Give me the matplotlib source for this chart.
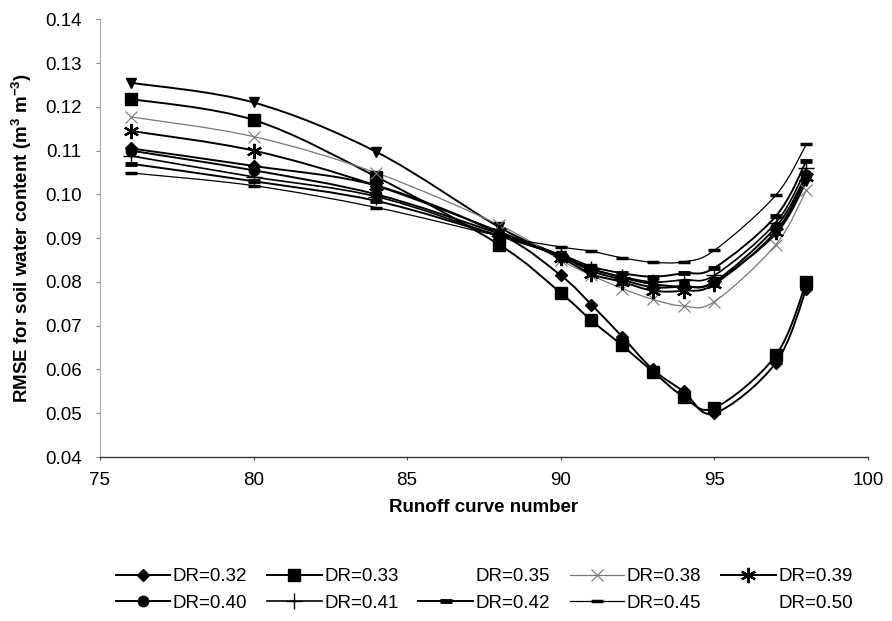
import matplotlib
matplotlib.use("Agg")
import numpy as np
import matplotlib.pyplot as plt
from matplotlib.lines import Line2D
from matplotlib.path import Path
from matplotlib.patches import PathPatch

plt.rcParams['font.family'] = ['Liberation Sans', 'DejaVu Sans']
plt.rcParams['mathtext.default'] = 'regular'

# Runoff curve numbers (x) and RMSE values
cn = [76, 80, 84, 88, 90, 91, 92, 93, 94, 95, 97, 98]

dr_032 = [0.1105, 0.1065, 0.1020, 0.0910, 0.0815, 0.0748, 0.0675, 0.0600, 0.0550, 0.0500, 0.0615, 0.0785]
dr_033 = [0.1218, 0.1170, 0.1040, 0.0885, 0.0775, 0.0712, 0.0655, 0.0595, 0.0538, 0.0512, 0.0632, 0.0800]
dr_035 = [0.1255, 0.1210, 0.1097, 0.0925, 0.0860, 0.0830, 0.0810, 0.0795, 0.0790, 0.0800, 0.0910, 0.1030]
dr_038 = [0.1177, 0.1132, 0.1049, 0.0930, 0.0850, 0.0815, 0.0785, 0.0760, 0.0745, 0.0755, 0.0885, 0.1010]
dr_039 = [0.1145, 0.1100, 0.1020, 0.0915, 0.0855, 0.0818, 0.0800, 0.0780, 0.0780, 0.0795, 0.0915, 0.1040]
dr_040 = [0.1100, 0.1055, 0.1000, 0.0910, 0.0858, 0.0825, 0.0805, 0.0788, 0.0790, 0.0800, 0.0925, 0.1045]
dr_041 = [0.1088, 0.1040, 0.0995, 0.0905, 0.0860, 0.0830, 0.0812, 0.0800, 0.0805, 0.0815, 0.0935, 0.1060]
dr_042 = [0.1070, 0.1030, 0.0985, 0.0905, 0.0862, 0.0835, 0.0820, 0.0812, 0.0820, 0.0832, 0.0950, 0.1077]
dr_045 = [0.1049, 0.1020, 0.0970, 0.0905, 0.0880, 0.0870, 0.0855, 0.0845, 0.0846, 0.0872, 0.0998, 0.1115]

x_ticks = [75, 80, 85, 90, 95, 100]
y_ticks = [0.04, 0.05, 0.06, 0.07, 0.08, 0.09, 0.10, 0.11, 0.12, 0.13, 0.14]

FS = 13.5


def smooth_path(xs, ys):
    """Excel-style smoothed line: cubic Bezier segments through the points."""
    p = np.column_stack([xs, ys]).astype(float)
    n = len(p)
    verts = [p[0]]
    codes = [Path.MOVETO]
    for i in range(n - 1):
        p0 = p[max(i - 1, 0)]
        p3 = p[min(i + 2, n - 1)]
        c1 = p[i] + (p[i + 1] - p0) / 6.0
        c2 = p[i + 1] - (p3 - p[i]) / 6.0
        verts += [c1, c2, p[i + 1]]
        codes += [Path.CURVE4] * 3
    return Path(verts, codes)


fig = plt.figure(figsize=(8.92, 6.21), dpi=100)
ax = fig.add_axes([0.112, 0.264, 0.861, 0.705])

# (label, data, marker, markersize, mew, colour, linewidth, show in legend)
series = [
    ('DR=0.32', dr_032, 'D', 6.5, 1.0, 'black', 1.4, True),
    ('DR=0.33', dr_033, 's', 8.5, 1.0, 'black', 1.4, True),
    ('DR=0.35', dr_035, 'v', 6.5, 1.0, 'black', 1.4, False),
    ('DR=0.38', dr_038, 'x', 9, 0.8, '#777777', 0.9, True),
    ('DR=0.39', dr_039, (6, 2, 0), 11, 1.6, 'black', 1.4, True),
    ('DR=0.40', dr_040, 'o', 7.5, 1.0, 'black', 1.4, True),
    ('DR=0.41', dr_041, '+', 11, 1.0, 'black', 1.2, True),
    ('DR=0.42', dr_042, '_', 9, 3.5, 'black', 1.4, True),
    ('DR=0.45', dr_045, '_', 8, 2.5, 'black', 0.9, True),
]

handles = {}
for label, vals, mk, ms, mew, col, lw, show in series:
    ax.add_patch(PathPatch(smooth_path(cn, vals), facecolor='none', edgecolor=col,
                           linewidth=lw, transform=ax.transData))
    ax.plot(cn, vals, linestyle='none', marker=mk, markersize=ms, markeredgewidth=mew,
            markerfacecolor=col, markeredgecolor=col)
    if show:
        handles[label] = Line2D([], [], color=col, linewidth=lw, marker=mk, markersize=ms,
                                markeredgewidth=mew, markerfacecolor=col, markeredgecolor=col)
    else:
        handles[label] = Line2D([], [], color='none')
# DR=0.50 shows no visible line/marker in the original
handles['DR=0.50'] = Line2D([], [], color='none')

ax.set_xlim(75, 100)
ax.set_ylim(0.04, 0.14)
ax.set_xticks(x_ticks)
ax.set_yticks(y_ticks)
ax.set_yticklabels([f'{v:.2f}' for v in y_ticks])
ax.tick_params(axis='both', labelsize=FS)
ax.tick_params(axis='y', length=3, width=0.8, color='#888888', pad=10)
ax.tick_params(axis='x', length=2, width=0.8, color='#555555', pad=9)

for s in ['top', 'right']:
    ax.spines[s].set_visible(False)
ax.spines['left'].set_color('#aaaaaa')
ax.spines['left'].set_linewidth(0.8)
ax.spines['bottom'].set_color('#333333')
ax.spines['bottom'].set_linewidth(1.0)

ax.set_xlabel('Runoff curve number', fontsize=FS, fontweight='bold', labelpad=7)
ax.set_ylabel(r'RMSE for soil water content (m$^{3}$ m$^{-3}$)', fontsize=FS,
              fontweight='bold', labelpad=8)

# legend laid out row-wise over 2 rows x 5 columns
order = ['DR=0.32', 'DR=0.40', 'DR=0.33', 'DR=0.41', 'DR=0.35', 'DR=0.42',
         'DR=0.38', 'DR=0.45', 'DR=0.39', 'DR=0.50']
fig.legend([handles[k] for k in order], order, ncol=5, loc='center',
           bbox_to_anchor=(0.543, 0.05), frameon=False, fontsize=FS,
           handlelength=2.9, handletextpad=0.15, columnspacing=1.05, labelspacing=0.5)

fig.savefig('out.png', dpi=100)
